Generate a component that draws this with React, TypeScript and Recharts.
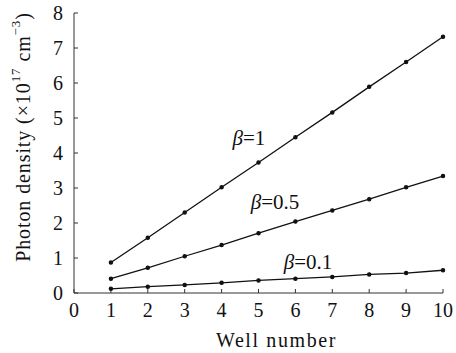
import { LineChart, Line, XAxis, YAxis, ReferenceDot, Label } from "recharts";

const wells = [1, 2, 3, 4, 5, 6, 7, 8, 9, 10];
const beta1 = [0.87, 1.58, 2.3, 3.02, 3.73, 4.45, 5.16, 5.89, 6.6, 7.32];
const beta05 = [0.41, 0.72, 1.05, 1.37, 1.71, 2.04, 2.36, 2.68, 3.02, 3.34];
const beta01 = [0.12, 0.18, 0.23, 0.29, 0.36, 0.41, 0.46, 0.53, 0.57, 0.65];
const xTicks = [0, 1, 2, 3, 4, 5, 6, 7, 8, 9, 10];
const yTicks = [0, 1, 2, 3, 4, 5, 6, 7, 8];

const data = wells.map((w, i) => ({
  well: w,
  b1: beta1[i],
  b05: beta05[i],
  b01: beta01[i],
}));

const font = "Liberation Serif";

const notes = [
  { x: 4.74, y: 4.44, text: "=1" },
  { x: 5.45, y: 2.61, text: "=0.5" },
  { x: 6.34, y: 0.89, text: "=0.1" },
];

function YTitle() {
  return (
    <text
      transform="translate(23,137) rotate(-90)"
      textAnchor="middle"
      dominantBaseline="central"
      style={{ fontFamily: font, fontSize: 20, letterSpacing: 0.9 }}
      fill="#111"
    >
      Photon density (×10
      <tspan dy={-8} fontSize={13}>17</tspan>
      <tspan dy={8}> cm</tspan>
      <tspan dy={-8} fontSize={13}>−3</tspan>
      <tspan dy={8}>)</tspan>
    </text>
  );
}

export default function App() {
  return (
    <div style={{ position: "absolute", left: 0, top: 0, background: "#fff", fontFamily: font }}>
      <LineChart
        width={456}
        height={353}
        data={data}
        margin={{ top: 13, right: 13, bottom: 0, left: 0 }}
      >
        <XAxis
          dataKey="well"
          type="number"
          domain={[0, 10]}
          ticks={xTicks}
          height={60}
          tickSize={-4}
          tickMargin={14}
          stroke="#333"
          tick={{ fill: "#111", style: { fontFamily: font, fontSize: 20 } }}
        >
          <Label
            value="Well number"
            position="insideBottom"
            offset={6}
            dx={18}
            fill="#111"
            style={{ fontFamily: font, fontSize: 20, letterSpacing: 1.6 }}
          />
        </XAxis>
        <YAxis
          type="number"
          domain={[0, 8]}
          ticks={yTicks}
          width={74}
          tickSize={-4}
          tickMargin={15}
          stroke="#333"
          tick={{ fill: "#111", style: { fontFamily: font, fontSize: 20 } }}
          label={<YTitle />}
        />
        <Line dataKey="b1" stroke="#111" strokeWidth={1.3} dot={{ r: 1.6, fill: "#111", stroke: "#111" }} isAnimationActive={false} />
        <Line dataKey="b05" stroke="#111" strokeWidth={1.3} dot={{ r: 1.6, fill: "#111", stroke: "#111" }} isAnimationActive={false} />
        <Line dataKey="b01" stroke="#111" strokeWidth={1.3} dot={{ r: 1.6, fill: "#111", stroke: "#111" }} isAnimationActive={false} />
        {notes.map((n) => (
          <ReferenceDot
            key={n.text}
            x={n.x}
            y={n.y}
            r={0}
            stroke="none"
            label={(p: any) => (
              <text
                x={p.viewBox.x}
                y={p.viewBox.y}
                textAnchor="middle"
                dominantBaseline="central"
                style={{ fontFamily: font, fontSize: 21 }}
                fill="#111"
              >
                <tspan fontStyle="italic">β</tspan>
                {n.text}
              </text>
            )}
          />
        ))}
      </LineChart>
    </div>
  );
}
